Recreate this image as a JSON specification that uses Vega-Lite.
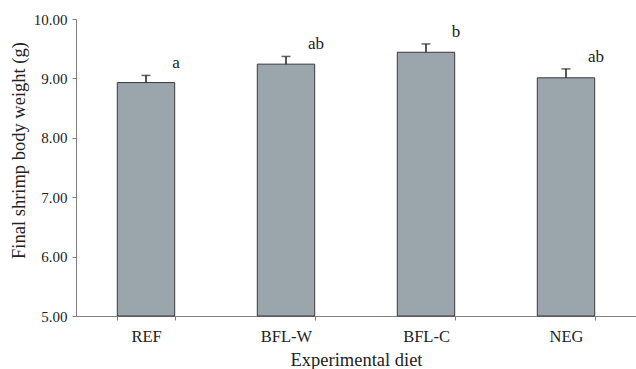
{
  "$schema": "https://vega.github.io/schema/vega-lite/v6.json",
  "autosize": "none",
  "width": 560,
  "height": 297,
  "padding": {"left": 76, "top": 19, "right": 0, "bottom": 53},
  "background": "white",
  "config": {
    "view": {"stroke": null},
    "font": "Liberation Serif",
    "axis": {"grid": false, "domainColor": "#7f7f7f", "tickColor": "#7f7f7f", "labelColor": "#222", "titleColor": "#222", "labelFont": "Liberation Serif", "titleFont": "Liberation Serif", "titleFontWeight": "normal"}
  },
  "data": {
    "values": [
      {"diet": "REF", "mean": 8.93, "hi": 9.05, "label": "a"},
      {"diet": "BFL-W", "mean": 9.24, "hi": 9.37, "label": "ab"},
      {"diet": "BFL-C", "mean": 9.44, "hi": 9.58, "label": "b"},
      {"diet": "NEG", "mean": 9.01, "hi": 9.16, "label": "ab"}
    ]
  },
  "encoding": {
    "x": {
      "field": "diet", "type": "nominal", "sort": null,
      "scale": {"paddingInner": 0.59, "paddingOuter": 0.295},
      "axis": {"title": "Experimental diet", "labelAngle": 0, "labelFontSize": 16.5, "titleFontSize": 18.5, "tickBand": "extent", "tickSize": 4, "labelPadding": 8, "titlePadding": 6}
    }
  },
  "layer": [
    {
      "mark": {"type": "bar", "fill": "#9aa5ac", "stroke": "#3a3a3a", "strokeWidth": 1},
      "encoding": {
        "y": {"field": "mean", "type": "quantitative", "scale": {"domain": [5, 10], "zero": false, "nice": false},
          "axis": {"title": "Final shrimp body weight (g)", "format": ".2f", "values": [5, 6, 7, 8, 9, 10], "labelFontSize": 15, "titleFontSize": 18.5, "tickSize": 4, "labelPadding": 5, "titlePadding": 5, "titleY": 131}},
        "y2": {"datum": 5}
      }
    },
    {
      "mark": {"type": "rule", "color": "#222", "strokeWidth": 1.5},
      "encoding": {
        "y": {"field": "mean", "type": "quantitative"},
        "y2": {"field": "hi"}
      }
    },
    {
      "mark": {"type": "tick", "color": "#222", "thickness": 1.5, "size": 9},
      "encoding": {
        "y": {"field": "hi", "type": "quantitative"}
      }
    },
    {
      "mark": {"type": "text", "dx": 30, "dy": -3, "baseline": "bottom", "align": "center", "fontSize": 17, "color": "#222"},
      "encoding": {
        "y": {"field": "hi", "type": "quantitative"},
        "text": {"field": "label"}
      }
    }
  ]
}
